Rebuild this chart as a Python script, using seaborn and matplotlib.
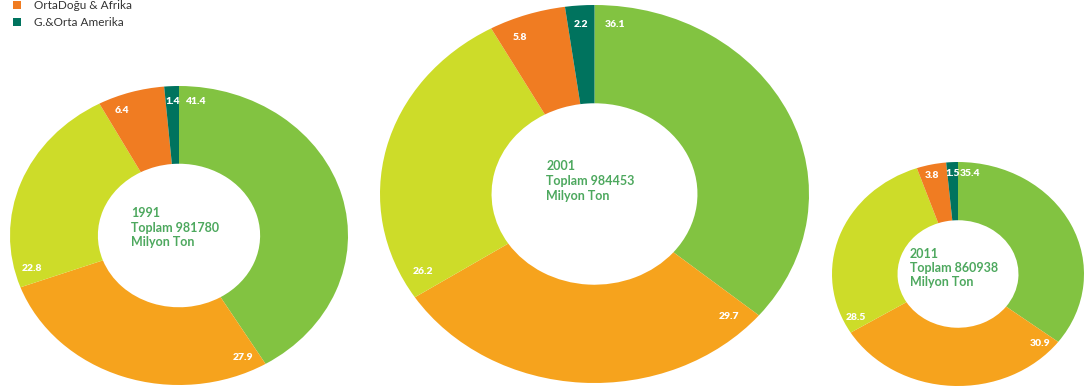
import matplotlib
matplotlib.use("Agg")
import matplotlib.pyplot as plt
import seaborn as sns
import numpy as np
from matplotlib.patches import Patch

# Regional shares (%) per year, in wedge order (clockwise from 12 o'clock)
years = ["1991", "2001", "2011"]
totals = ["981780", "984453", "860938"]
shares_1991 = [41.4, 27.9, 22.8, 6.4, 1.4]
shares_2001 = [36.1, 29.7, 26.2, 5.8, 2.2]
shares_2011 = [35.4, 30.9, 28.5, 3.8, 1.5]
wedge_colors = ["#82C341", "#F6A31D", "#CDDC29", "#F07C22", "#00735E"]
legend_labels = ["OrtaDoğu & Afrika", "G.&Orta Amerika"]
legend_colors = ["#F07C22", "#00735E"]

sns.set_theme(style="white")
plt.rcParams["font.family"] = ["Lato", "DejaVu Sans"]

W, H = 1085, 388
fig = plt.figure(figsize=(W / 100, H / 100), dpi=100)

# donut boxes in pixels: left, top, right, bottom
boxes = [(10, 86, 348, 385), (380, 5, 809, 383), (832, 162, 1084, 386)]
center_lift = [8, 13, 6]
all_shares = [shares_1991, shares_2001, shares_2011]

for shares, year, total, (l, t, r, b), lift in zip(all_shares, years, totals, boxes, center_lift):
    ax = fig.add_axes([l / W, (H - b) / H, (r - l) / W, (b - t) / H])
    ax.pie(shares, colors=wedge_colors, startangle=90, counterclock=False,
           radius=1.0, wedgeprops=dict(width=0.52, linewidth=0))
    ax.set_aspect("auto")
    ax.set_xlim(-1, 1)
    ax.set_ylim(-1, 1)
    ax.axis("off")

    vals = np.array(shares, dtype=float)
    fr = vals / vals.sum() * 360.0
    starts = np.concatenate([[0], np.cumsum(fr)[:-1]])
    for v, s, w in zip(shares, starts, fr):
        a = np.deg2rad(s + min(6.0, w / 2))
        ax.text(0.9 * np.sin(a), 0.9 * np.cos(a), f"{v:.1f}", color="white",
                fontsize=7.5, fontweight="heavy", ha="center", va="center")

    ax.annotate(f"{year}\nToplam {total}\nMilyon Ton", xy=(0, 0),
                xytext=(-3, lift * 0.72), textcoords="offset points",
                ha="center", va="center", multialignment="left",
                color="#4DA85E", fontsize=9, fontweight="bold", linespacing=1.25)

handles = [Patch(facecolor=c, edgecolor="none") for c in legend_colors]
fig.legend(handles, legend_labels, loc="upper left", bbox_to_anchor=(13 / W, 1 - 0 / H),
           frameon=False, fontsize=8.5, handlelength=0.65, handleheight=0.65,
           handletextpad=1.1, labelspacing=0.55, borderaxespad=0, borderpad=0,
           labelcolor="#333333")

fig.savefig("out.png", dpi=100, facecolor="white")
